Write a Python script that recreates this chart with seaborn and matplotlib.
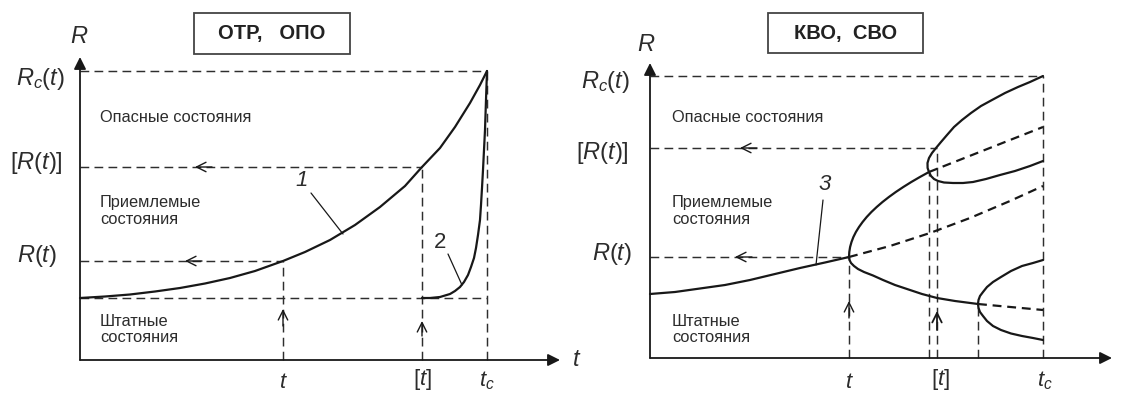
import seaborn as sns
import matplotlib.pyplot as plt
from matplotlib.patches import Rectangle

sns.set_theme(style='white')
plt.rcParams['font.family'] = ['Liberation Sans', 'DejaVu Sans']
plt.rcParams['mathtext.fontset'] = 'custom'
plt.rcParams['mathtext.it'] = 'Liberation Sans:italic'
plt.rcParams['mathtext.rm'] = 'Liberation Sans'

INK = '#181818'
GREY = '#2e2e2e'
TXT = '#2c2c2c'

# ---------- left panel: ОТР, ОПО ----------
L_title = 'ОТР,   ОПО'
L_base, L_Rt, L_Radm, L_Rc = 0.62, 0.99, 1.93, 2.89
L_t, L_tadm, L_tc = 2.03, 3.42, 4.07

curve1_t = [0, 0.25, 0.5, 0.75, 1.0, 1.25, 1.5, 1.75, 2.03, 2.25, 2.5, 2.75,
            3.0, 3.25, 3.42, 3.6, 3.75, 3.9, 4.0, 4.07]
curve1_R = [0.62, 0.635, 0.655, 0.685, 0.72, 0.765, 0.82, 0.89, 0.99, 1.08,
            1.20, 1.35, 1.53, 1.74, 1.93, 2.12, 2.33, 2.57, 2.75, 2.89]
curve2_t = [3.42, 3.50, 3.60, 3.65, 3.70, 3.75, 3.80, 3.84, 3.88, 3.91, 3.94,
            3.96, 3.98, 4.00, 4.01, 4.02, 4.03, 4.04, 4.05, 4.06, 4.07]
curve2_R = [0.62, 0.62, 0.63, 0.645, 0.66, 0.69, 0.73, 0.78, 0.85, 0.93, 1.02,
            1.12, 1.25, 1.40, 1.55, 1.72, 1.90, 2.10, 2.30, 2.60, 2.89]

# ---------- right panel: КВО, СВО ----------
R_title = 'КВО,  СВО'
R_Rt, R_Radm, R_Rc = 1.01, 2.10, 2.82
R_t, R_t2, R_tadm, R_t3, R_tc = 1.99, 2.79, 2.87, 3.28, 3.93

main_t = [0, 0.25, 0.5, 0.75, 1.0, 1.25, 1.5, 1.75, 1.99]
main_R = [0.64, 0.66, 0.695, 0.73, 0.78, 0.84, 0.90, 0.955, 1.01]
up1_t = [1.99, 1.993, 2.001, 2.015, 2.034, 2.059, 2.09, 2.126, 2.167, 2.214,
         2.267, 2.325, 2.389, 2.458, 2.533, 2.613, 2.699, 2.79]
up1_R = [1.01, 1.06, 1.11, 1.16, 1.21, 1.26, 1.31, 1.36, 1.41, 1.46,
         1.51, 1.56, 1.61, 1.66, 1.71, 1.76, 1.81, 1.86]
lo1_t = [1.99, 1.995, 2.01, 2.04, 2.08, 2.14, 2.23, 2.33, 2.45, 2.57, 2.72,
         2.87, 3.05, 3.28]
lo1_R = [1.01, 0.98, 0.95, 0.92, 0.89, 0.86, 0.825, 0.78, 0.73, 0.69, 0.64,
         0.60, 0.57, 0.54]
da1_t = [1.99, 2.40, 2.80, 3.20, 3.60, 3.93]
da1_R = [1.01, 1.12, 1.25, 1.40, 1.57, 1.72]
up2_t = [2.79, 2.776, 2.775, 2.79, 2.82, 2.86, 2.91, 2.97, 3.04, 3.12, 3.21,
         3.31, 3.42, 3.55, 3.68, 3.80, 3.93]
up2_R = [1.86, 1.90, 1.95, 2.00, 2.05, 2.10, 2.16, 2.23, 2.31, 2.38, 2.45,
         2.52, 2.58, 2.65, 2.71, 2.76, 2.82]
lo2_t = [2.79, 2.81, 2.84, 2.88, 2.94, 3.03, 3.13, 3.23, 3.36, 3.50, 3.65,
         3.80, 3.93]
lo2_R = [1.86, 1.82, 1.79, 1.77, 1.755, 1.75, 1.75, 1.76, 1.79, 1.83, 1.87,
         1.92, 1.97]
da2_t = [2.79, 3.93]
da2_R = [1.86, 2.31]
up3_t = [3.28, 3.285, 3.30, 3.33, 3.37, 3.43, 3.51, 3.61, 3.72, 3.83, 3.93]
up3_R = [0.54, 0.58, 0.62, 0.66, 0.71, 0.76, 0.81, 0.87, 0.92, 0.95, 0.98]
lo3_t = [3.28, 3.285, 3.30, 3.33, 3.37, 3.43, 3.51, 3.61, 3.72, 3.83, 3.93]
lo3_R = [0.54, 0.50, 0.46, 0.42, 0.37, 0.32, 0.28, 0.245, 0.22, 0.20, 0.18]
da3_t = [3.28, 3.93]
da3_R = [0.54, 0.48]

zones = ['Опасные состояния', 'Приемлемые\nсостояния', 'Штатные\nсостояния']
tick_labels = [r'$t$', r'$[t]$', r'$t_c$']


def dashed(ax, xs, ys):
    ax.plot(xs, ys, ls=(0, (6, 3.6)), lw=1.05, color=GREY)


def curve(ax, xs, ys, dash=False):
    sns.lineplot(x=xs, y=ys, ax=ax, sort=False, estimator=None, color=INK,
                 lw=1.6, ls=(0, (4, 2.6)) if dash else '-')


def arrow(ax, xy, xytext, lw=1.0, ms=17, style='->'):
    ax.annotate('', xy=xy, xytext=xytext,
                arrowprops=dict(arrowstyle=style, lw=lw, color=INK,
                                mutation_scale=ms, shrinkA=0, shrinkB=0))


def frame(ax, xlim, xtip, ylim, ytip, title, box, zone_x, zone_y, lab_pos):
    ax.set_xlim(*xlim)
    ax.set_ylim(*ylim)
    ax.axis('off')
    arrow(ax, (xtip, 0), (0, 0), lw=1.3, ms=18, style='-|>')
    arrow(ax, (0, ytip), (0, 0), lw=1.3, ms=18, style='-|>')
    ax.text(lab_pos[0], lab_pos[1], r'$R$', ha='center', va='center', fontsize=17, color=TXT)
    ax.add_patch(Rectangle((box[0], box[1]), box[2], box[3], fill=False,
                           ec='#444444', lw=1.3, clip_on=False))
    ax.text(box[0] + box[2] / 2, box[1] + box[3] / 2, title, ha='center',
            va='center', fontsize=14.5, fontweight='bold', color='#222222')
    for z, yy in zip(zones, zone_y):
        ax.text(zone_x, yy, z, ha='left', va='center', fontsize=11.8,
                color=TXT, linespacing=1.15)


fig = plt.figure(figsize=(11.27, 3.94), dpi=100)
fig.patch.set_facecolor('white')

# ---- left ----
axL = fig.add_axes([0, 0, 560 / 1127, 1])
frame(axL, (-0.8, 4.8), 4.80, (-0.34, 3.60), 3.03, L_title,
      (1.14, 3.06, 1.56, 0.41), 0.20, [2.42, 1.49, 0.305], (-0.01, 3.23))

dashed(axL, [0, L_tc], [L_Rc, L_Rc])
dashed(axL, [0, L_tadm], [L_Radm, L_Radm])
dashed(axL, [0, L_t], [L_Rt, L_Rt])
dashed(axL, [0, L_tc], [L_base, L_base])
dashed(axL, [L_t, L_t], [0, L_Rt])
dashed(axL, [L_tadm, L_tadm], [0, L_Radm])
dashed(axL, [L_tc, L_tc], [0, L_Rc])
arrow(axL, (1.15, L_Radm), (1.32, L_Radm))
arrow(axL, (1.05, L_Rt), (1.22, L_Rt))
arrow(axL, (L_t, 0.51), (L_t, 0.34))
arrow(axL, (L_tadm, 0.39), (L_tadm, 0.24))

curve(axL, curve1_t, curve1_R)
curve(axL, curve2_t, curve2_R)
axL.plot([2.31, 2.63], [1.67, 1.26], color=INK, lw=0.9)
axL.text(2.22, 1.80, '1', ha='center', va='center', fontsize=16, style='italic', color=TXT)
axL.plot([3.68, 3.82], [1.06, 0.75], color=INK, lw=0.9)
axL.text(3.60, 1.17, '2', ha='center', va='center', fontsize=16, color=TXT)

axL.text(-0.40, 2.81, r'$R_c(t)$', ha='center', va='center', fontsize=17, color=TXT)
axL.text(-0.44, 1.97, r'$[R(t)]$', ha='center', va='center', fontsize=17, color=TXT)
axL.text(-0.43, 1.04, r'$R(t)$', ha='center', va='center', fontsize=17, color=TXT)
for xx, lab in zip([L_t, L_tadm, L_tc], tick_labels):
    axL.text(xx, -0.325, lab, ha='center', va='bottom', fontsize=16, color=TXT)
axL.text(4.97, 0.0, r'$t$', ha='center', va='center', fontsize=17, color=TXT, clip_on=False)

# ---- right ----
axR = fig.add_axes([560 / 1127, 0, 567 / 1127, 1])
frame(axR, (-0.9, 4.77), 4.62, (-0.36, 3.58), 2.95, R_title,
      (1.18, 3.05, 1.55, 0.40), 0.22, [2.40, 1.47, 0.285], (-0.04, 3.13))

dashed(axR, [0, R_tc], [R_Rc, R_Rc])
dashed(axR, [0, R_tadm], [R_Radm, R_Radm])
dashed(axR, [0, R_t], [R_Rt, R_Rt])
dashed(axR, [R_t, R_t], [0, R_Rt])
dashed(axR, [R_t2, R_t2], [0, 1.86])
dashed(axR, [R_tadm, R_tadm], [0, R_Radm])
dashed(axR, [R_t3, R_t3], [0, 0.54])
dashed(axR, [R_tc, R_tc], [0, R_Rc])
arrow(axR, (0.90, R_Radm), (1.07, R_Radm))
arrow(axR, (0.85, R_Rt), (1.02, R_Rt))
arrow(axR, (R_t, 0.57), (R_t, 0.40))
arrow(axR, (R_tadm, 0.47), (R_tadm, 0.28), lw=1.3)

for xs, ys in [(main_t, main_R), (up1_t, up1_R), (lo1_t, lo1_R), (up2_t, up2_R),
               (lo2_t, lo2_R), (up3_t, up3_R), (lo3_t, lo3_R)]:
    curve(axR, xs, ys)
for xs, ys in [(da1_t, da1_R), (da2_t, da2_R), (da3_t, da3_R)]:
    curve(axR, xs, ys, dash=True)
axR.plot([1.73, 1.66], [1.58, 0.93], color=INK, lw=0.9)
axR.text(1.75, 1.74, '3', ha='center', va='center', fontsize=16, style='italic', color=TXT)

axR.text(-0.45, 2.76, r'$R_c(t)$', ha='center', va='center', fontsize=17, color=TXT)
axR.text(-0.48, 2.05, r'$[R(t)]$', ha='center', va='center', fontsize=17, color=TXT)
axR.text(-0.38, 1.04, r'$R(t)$', ha='center', va='center', fontsize=17, color=TXT)
for xx, lab in zip([R_t, 2.90, 3.95], tick_labels):
    axR.text(xx, -0.345, lab, ha='center', va='bottom', fontsize=16, color=TXT)

fig.savefig('out.png', dpi=100, facecolor='white')
